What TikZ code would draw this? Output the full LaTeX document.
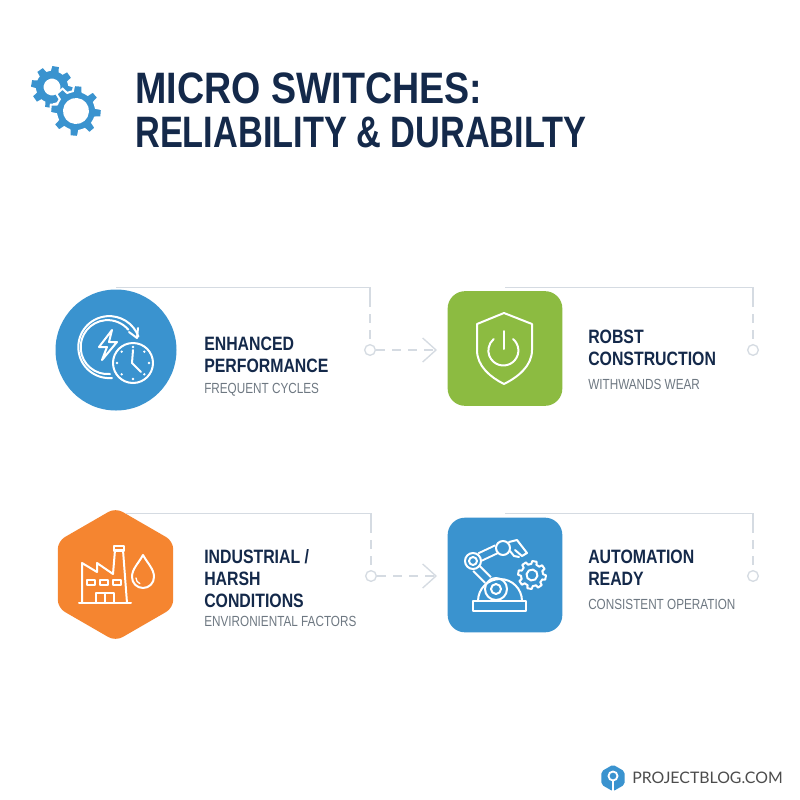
\documentclass[tikz,border=0pt]{standalone}
\usepackage{fontspec}
\usepackage{tikz}
\usetikzlibrary{arrows.meta,shapes.geometric}
\newfontfamily\titlefont[FakeStretch=0.855]{Liberation Sans}
\newfontfamily\titlenarrow[FakeStretch=0.78]{Liberation Sans}
\newfontfamily\headfont[FakeStretch=0.82]{Liberation Sans}
\newfontfamily\subfont[FakeStretch=0.8]{Liberation Sans}
\newfontfamily\logofont{Lato}
\definecolor{navyc}{HTML}{14294A}
\definecolor{grayc}{HTML}{6E7882}
\definecolor{linec}{HTML}{D5DBE2}
\definecolor{bluec}{HTML}{3A93CF}
\definecolor{greenc}{HTML}{8CBB41}
\definecolor{orangec}{HTML}{F58530}
\newcommand{\gearshape}[3]{% outer radius, inner radius, hole radius
  (-14:#2) \foreach \a in {0,45,...,315} {
    -- (\a-14:#2) -- (\a-9:#1) -- (\a+9:#1) -- (\a+14:#2) -- (\a+22.5:#2)
  } -- cycle (#3,0) arc (0:360:#3)}
\tikzset{
  circleicon/.style={circle,fill=bluec,inner sep=0pt,minimum size=90.75pt,outer sep=1.5pt},
  squareicon/.style={rectangle,rounded corners=13pt,inner sep=0pt,minimum size=86pt,outer sep=3pt},
  hexicon/.style={regular polygon,regular polygon sides=6,shape border rotate=30,fill=orangec,inner sep=0pt,minimum size=100pt,rounded corners=6pt},
  conndot/.style={circle,draw=linec,line width=1pt,fill=white,inner sep=0pt,minimum size=8pt},
  connline/.style={draw=linec,line width=1pt},
  conndash/.style={connline,dash pattern=on 7pt off 5pt},
  connarrow/.style={conndash,-{Straight Barb[length=10pt,width=18pt,line width=1pt]}},
  titletext/.style={anchor=north west,inner sep=0pt,align=left,text=navyc,font=\titlefont\bfseries\fontsize{33}{33}\selectfont},
  headtext/.style={anchor=north west,inner sep=0pt,align=left,text=navyc,font=\headfont\bfseries\fontsize{14.5}{16.5}\selectfont},
  subtext/.style={anchor=north west,inner sep=0pt,text=grayc,font=\subfont\fontsize{11}{13}\selectfont},
  iconline/.style={draw=white,line width=1.5pt,line join=round,line cap=round},
}
\begin{document}
\begin{tikzpicture}[x=0.75pt,y=0.75pt,yscale=-1,xscale=1]
	\useasboundingbox (0,0) rectangle (800,800);
	\fill[white] (0,0) rectangle (800,800);

	%Shape: title gears
	\begin{scope}[shift={(52,87)}]
		\fill[bluec,even odd rule,rotate=10] \gearshape{21}{16}{8.5};
	\end{scope}
	\begin{scope}[shift={(76,111)}]
		\draw[white,line width=1.5pt,fill=bluec,even odd rule,rotate=5] \gearshape{26}{20}{12};
	\end{scope}

	% Text Node
	\node[titletext] (title) at (135,72.5) {MICRO SWITCHES:\\{\titlenarrow\bfseries RELIABILITY \& DURABILTY}};

	%Shape: icon backgrounds
	\node[circleicon] (perf) at (116,350) {};
	\node[squareicon,fill=greenc] (robust) at (505,348.5) {};
	\node[hexicon] (indust) at (115.5,574.5) {};
	\node[squareicon,fill=bluec] (autom) at (505,575) {};

	%Connectors
	\node[conndot] (perfdot) at (370,350) {};
	\coordinate (perfbend) at (370,298);
	\coordinate (perfend) at (437,350);
	\draw[connline] (perf.north) -| (perfbend);
	\draw[conndash] (perfbend) -- (perfdot);
	\draw[connarrow] (perfdot) -- (perfend);

	\node[conndot] (robustdot) at (753,350) {};
	\coordinate (robustbend) at (753,298);
	\draw[connline] (robust.north) -| (robustbend);
	\draw[conndash] (robustbend) -- (robustdot);

	\node[conndot] (industdot) at (371,576) {};
	\coordinate (industbend) at (371,524);
	\coordinate (industend) at (437,576);
	\draw[connline] (indust.80) -| (industbend);
	\draw[conndash] (industbend) -- (industdot);
	\draw[connarrow] (industdot) -- (industend);

	\node[conndot] (automdot) at (753,576) {};
	\coordinate (autombend) at (753,524);
	\draw[connline] (autom.north) -| (autombend);
	\draw[conndash] (autombend) -- (automdot);

	%Shape: clock icon
	\draw[iconline] (112,378) arc (85:340:31);
	\draw[iconline] (110,374) arc (85:320:27);
	\draw[iconline] (129,332) -- (137,338) -- (138,328);
	\draw[iconline] (112,330) -- (99,347) -- (107,347) -- (102,360) -- (117,342) -- (109,342) -- cycle;
	\draw[iconline,fill=bluec] (133,363) circle (20);
	\draw[iconline] (133,350) -- (132,363) -- (141,372);
	\foreach \a in {0,45,...,315} {
		\fill[white] (133,363) ++(\a:16) circle (1.3);
	}

	%Shape: shield icon
	\draw[iconline] (504,313) -- (532,324) -- (532,350) .. controls (532,366) and (518,377) .. (504,384)
		.. controls (490,377) and (477,366) .. (477,350) -- (477,324) -- cycle;
	\draw[iconline] (513,339) arc (-50:230:15);
	\draw[iconline] (504,331) -- (504,349);

	%Shape: factory icon
	\draw[iconline] (79,603) -- (131,603);
	\draw[iconline] (82,603) -- (82,563) -- (97,572) -- (97,563) -- (113,574) -- (115,550) -- (123,550) -- (127,603);
	\draw[iconline] (114,546) rectangle (124,551);
	\foreach \x in {87,100,113} {
		\draw[iconline] (\x,580) rectangle ++(8,5);
	}
	\draw[iconline] (96,603) -- (96,593) -- (114,593) -- (114,603) (105,593) -- (105,603);
	\draw[iconline] (143,555) .. controls (138,564) and (132,569) .. (132,577)
		arc (180:0:11) .. controls (154,569) and (148,564) .. (143,555) -- cycle;
	\draw[iconline,line width=1pt] (136,578) arc (180:110:6);

	%Shape: robot icon
	\draw[iconline] (473,601) rectangle (526,611);
	\draw[iconline] (478,601) arc (180:360:22);
	\draw[iconline] (496,589) circle (11) (496,589) circle (5);
	\draw[iconline,double=bluec,double distance=4.5pt,line cap=butt] (476,568) -- (488,580);
	\draw[iconline,double=bluec,double distance=4.5pt,line cap=butt] (480,557) -- (497,549);
	\draw[iconline] (473,561) circle (8) (473,561) circle (4);
	\draw[iconline] (503,548) circle (7);
	\draw[iconline] (509,542) -- (517,540) -- (527,553) -- (522,556) -- (515,550) (510,551) -- (514,556) -- (519,557);
	\begin{scope}[shift={(532,575)}]
		\draw[iconline,rotate=10] \gearshape{14}{11}{5.5};
	\end{scope}

	% Text Node
	\node[headtext] (perftext) at (204,337) {ENHANCED\\PERFORMANCE};
	\node[subtext] (perfsub) at (204,383) {FREQUENT CYCLES};
	% Text Node
	\node[headtext] (robusttext) at (588,330) {ROBST\\CONSTRUCTION};
	\node[subtext] (robustsub) at (588,379) {WITHWANDS WEAR};
	% Text Node
	\node[headtext] (industtext) at (204,549.5) {INDUSTRIAL /\\HARSH\\CONDITIONS};
	\node[subtext] (industsub) at (204,616) {ENVIRONIENTAL FACTORS};
	% Text Node
	\node[headtext] (automtext) at (588,549.5) {AUTOMATION\\READY};
	\node[subtext] (automsub) at (588,599) {CONSISTENT OPERATION};

	%Shape: logo
	\node[regular polygon,regular polygon sides=6,shape border rotate=30,fill=bluec,inner sep=0pt,minimum size=20pt,rounded corners=1.5pt] (logo) at (613,778) {};
	\draw[white,line width=1.4pt] (613,776) circle (4.5);
	\draw[white,line width=1.2pt] (613,781) -- (613,791);
	\node[anchor=west,inner sep=0pt,text=black!70,font=\logofont\fontsize{11.9}{13}\selectfont] (logotext) at (632,778) {PROJECTBLOG.COM};
\end{tikzpicture}
\end{document}
